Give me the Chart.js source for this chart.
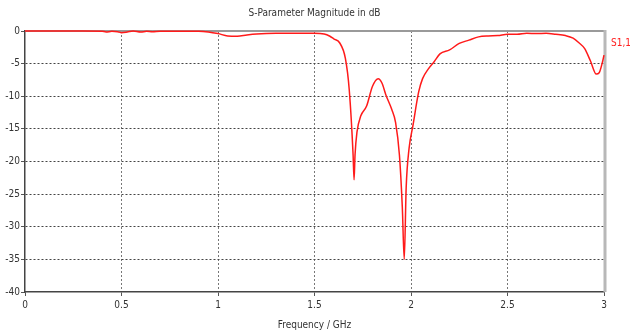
<!DOCTYPE html>
<html>
<head>
<meta charset="utf-8">
<script src="https://cdn.jsdelivr.net/npm/chart.js@4.4.0/dist/chart.umd.min.js"></script>
<style>
  html, body { margin: 0; padding: 0; background: #fff; }
  #wrap { width: 630px; height: 333px; }
</style>
</head>
<body>
<div id="wrap"><canvas id="sparam" width="630" height="333"></canvas></div>
<script>
// Frequency points (GHz)
const freqGHz = [0, 0.1, 0.2, 0.3, 0.4, 0.42, 0.45, 0.48, 0.5, 0.53, 0.56, 0.6, 0.63, 0.66, 0.7, 0.8, 0.9, 0.95,
    1.0, 1.05, 1.1, 1.15, 1.2, 1.3, 1.4, 1.5, 1.55, 1.58, 1.6, 1.63, 1.66, 1.68, 1.7, 1.705, 1.71, 1.72, 1.74,
    1.77, 1.8, 1.83, 1.85, 1.87, 1.9, 1.92, 1.94, 1.955, 1.965, 1.975, 1.99, 2.01, 2.04, 2.06, 2.09, 2.12, 2.15,
    2.2, 2.25, 2.3, 2.35, 2.4, 2.45, 2.5, 2.55, 2.6, 2.65, 2.7, 2.75, 2.8, 2.84, 2.87, 2.9, 2.93, 2.96, 2.975,
    2.99, 3.0];

// S1,1 magnitude (dB)
const s11dB = [0, 0, 0, 0, -0.02, -0.15, -0.05, -0.1, -0.25, -0.15, 0, -0.15, -0.05, -0.1, -0.05, -0.05, -0.05, -0.15,
    -0.4, -0.75, -0.8, -0.6, -0.45, -0.35, -0.35, -0.35, -0.45, -0.8, -1.2, -1.8, -4.2, -9, -19, -22.8, -19, -15.5, -13,
    -11.5, -8.5, -7.3, -8, -9.8, -12, -14, -19, -27, -35, -24, -18, -14.5, -9.3, -7.3, -5.8, -4.7, -3.5,
    -2.9, -1.9, -1.4, -0.9, -0.75, -0.7, -0.5, -0.5, -0.35, -0.4, -0.35, -0.5, -0.7, -1.1, -1.8, -2.7, -4.6, -6.6, -6.4,
    -5, -3.7];

const xTicks = [0, 0.5, 1, 1.5, 2, 2.5, 3];
const yTicks = [0, -5, -10, -15, -20, -25, -30, -35, -40];

const seriesLabel = 'S1,1';
const titleText = 'S-Parameter Magnitude in dB';
const xTitleText = 'Frequency / GHz';

const fontFamily = '"DejaVu Sans Condensed", "Liberation Sans", sans-serif';

// Frame (under the curve), title and series label
const framePlugin = {
    id: 'frame',
    beforeDatasetsDraw(chart) {
        const { ctx, chartArea: a } = chart;
        ctx.save();
        ctx.strokeStyle = '#9a9a9a';
        ctx.lineWidth = 2;
        ctx.beginPath();
        ctx.moveTo(a.left, a.top);
        ctx.lineTo(a.right, a.top);
        ctx.stroke();
        ctx.strokeStyle = '#b8b8b8';
        ctx.lineWidth = 3;
        ctx.beginPath();
        ctx.moveTo(a.right + 1, a.top - 1);
        ctx.lineTo(a.right + 1, a.bottom);
        ctx.stroke();
        ctx.restore();
    },
    afterDraw(chart) {
        const { ctx, chartArea: a } = chart;
        ctx.save();
        ctx.font = '10px ' + fontFamily;
        ctx.fillStyle = '#333';
        ctx.textAlign = 'center';
        ctx.textBaseline = 'middle';
        ctx.fillText(titleText, (a.left + a.right) / 2, 13);

        ctx.fillStyle = '#ff2020';
        ctx.textAlign = 'left';
        ctx.fillText(seriesLabel, a.right + 7, 43);
        ctx.restore();
    }
};

const chart = new Chart(document.getElementById('sparam'), {
    type: 'line',
    data: {
        datasets: [{
            label: seriesLabel,
            data: freqGHz.map((f, i) => ({ x: f, y: s11dB[i] })),
            borderColor: '#ff1a1a',
            borderWidth: 1.5,
            pointRadius: 0,
            fill: false,
            clip: 4,
            tension: 0,
            cubicInterpolationMode: 'monotone'
        }]
    },
    options: {
        responsive: false,
        animation: false,
        layout: { padding: { top: 31, right: 26, left: 0, bottom: 0 } },
        plugins: {
            legend: { display: false },
            tooltip: { enabled: false }
        },
        scales: {
            x: {
                type: 'linear',
                min: 0,
                max: 3,
                afterBuildTicks: axis => { axis.ticks = xTicks.map(v => ({ value: v })); },
                afterFit: axis => { axis.height = 41; },
                grid: {
                    color: c => (c.tick.value === 0 || c.tick.value === 3) ? 'rgba(0,0,0,0)' : '#777',
                    tickColor: '#555',
                    tickLength: 4,
                    lineWidth: 1
                },
                border: { display: true, color: '#444', width: 1.5, dash: [2, 2] },
                ticks: {
                    color: '#333',
                    padding: 3,
                    maxRotation: 0,
                    font: { family: fontFamily, size: 10 },
                    callback: v => String(v)
                },
                title: {
                    display: true,
                    text: xTitleText,
                    color: '#333',
                    font: { family: fontFamily, size: 10 },
                    padding: { top: 0, bottom: 2 }
                }
            },
            y: {
                type: 'linear',
                min: -40,
                max: 0,
                afterBuildTicks: axis => { axis.ticks = yTicks.map(v => ({ value: v })); },
                afterFit: axis => { axis.width = 25; },
                grid: {
                    color: c => (c.tick.value === 0 || c.tick.value === -40) ? 'rgba(0,0,0,0)' : '#444',
                    tickColor: '#555',
                    tickLength: 4,
                    lineWidth: 1
                },
                border: { display: true, color: '#444', width: 1.5, dash: [2, 2] },
                ticks: {
                    color: '#333',
                    padding: 1,
                    font: { family: fontFamily, size: 10 },
                    callback: v => String(v)
                }
            }
        }
    },
    plugins: [framePlugin]
});
</script>
</body>
</html>
